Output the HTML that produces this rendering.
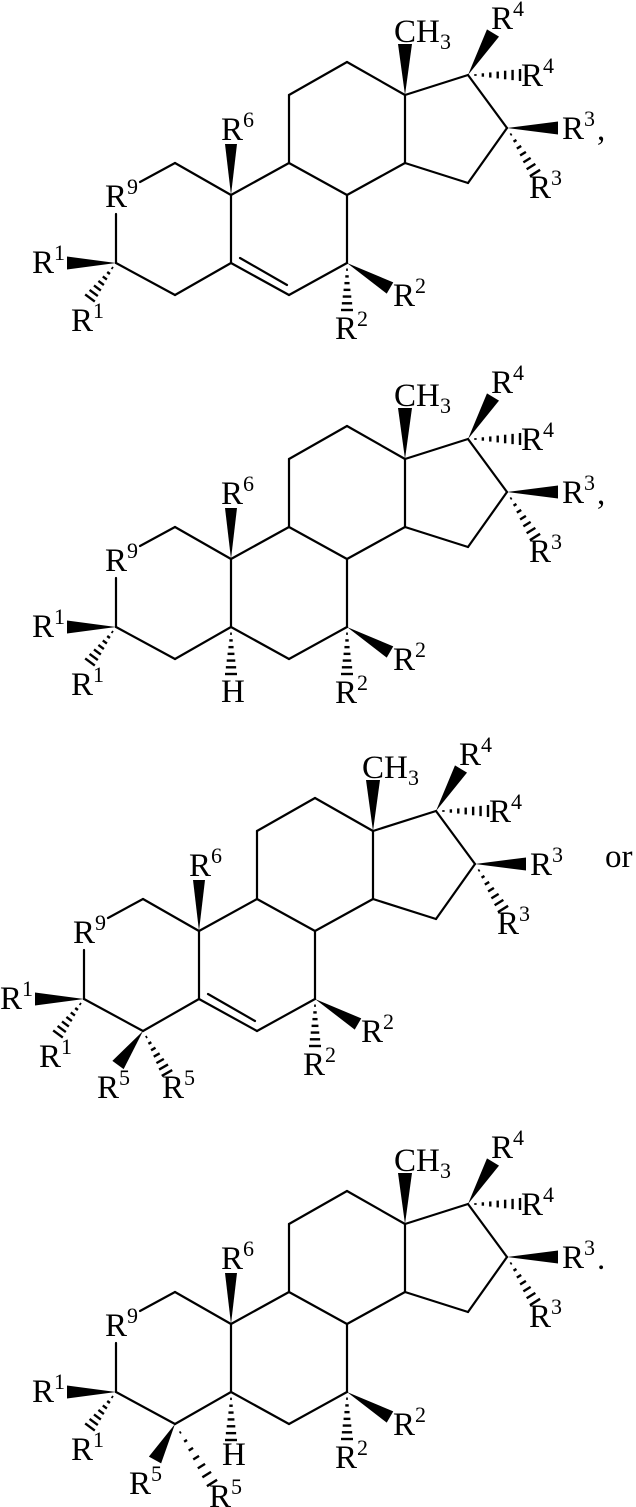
<!DOCTYPE html>
<html><head><meta charset="utf-8">
<style>
html,body{margin:0;padding:0;background:#fff;}
svg{display:block;}
text{font-family:"Liberation Serif",serif;fill:#000;}
.r{font-size:33px;}
.s{font-size:22px;}
</style></head>
<body>
<svg id="s" width="636" height="1507" viewBox="0 0 636 1507" xmlns="http://www.w3.org/2000/svg">
<g id="g1"></g>
<g id="g2" transform="translate(0,364)"></g>
<g id="g3" transform="translate(-32,736)"></g>
<g id="g4" transform="translate(0,1129)"></g>
<text class="r" x="605" y="867">or</text>
</svg>
<script>
var NS="http://www.w3.org/2000/svg";
function el(g,n,a){var e=document.createElementNS(NS,n);for(var k in a)e.setAttribute(k,a[k]);g.appendChild(e);return e;}
function line(g,a,b){el(g,"line",{x1:a[0],y1:a[1],x2:b[0],y2:b[1],stroke:"#000","stroke-width":2.2,"stroke-linecap":"round"});}
function wedge(g,a,b,w){w=w||5.5;var dx=b[0]-a[0],dy=b[1]-a[1],L=Math.hypot(dx,dy),px=-dy/L*w,py=dx/L*w;
el(g,"polygon",{points:a[0]+","+a[1]+" "+(b[0]+px)+","+(b[1]+py)+" "+(b[0]-px)+","+(b[1]-py),fill:"#000"});}
function hash(g,a,b,w){w=w||5.5;var dx=b[0]-a[0],dy=b[1]-a[1],L=Math.hypot(dx,dy),ux=-dy/L,uy=dx/L;var n=7;
for(var i=1;i<=n;i++){var t=i/n,x=a[0]+dx*t,y=a[1]+dy*t,h=w*t;
el(g,"line",{x1:x-ux*h,y1:y-uy*h,x2:x+ux*h,y2:y+uy*h,stroke:"#000","stroke-width":2.4});}}
function lab(g,x,y,sup){var t=el(g,"text",{x:x-1,y:y+1,"class":"r"});t.textContent="R";
var s=el(g,"text",{x:x+21,y:y-12,"class":"s"});s.textContent=sup;}
function txt(g,x,y,c,s){var t=el(g,"text",{x:x,y:y,"class":c});t.textContent=s;}
var C3=[116,263],C1=[175,163],C10=[231,195],C5=[231,263],C4=[175,295],C9=[289,163],C11=[289,95],C12=[347,62],C13=[405,95],C14=[405,163],C8=[347,195],C7=[347,263],C6=[289,295],C17=[468,75],C16=[507,128],C15=[468,183];
function skel(g,dbl,end){
line(g,C3,[116,214]);line(g,[140,182],C1);line(g,C1,C10);line(g,C10,C5);line(g,C5,C4);line(g,C4,C3);
line(g,C10,C9);line(g,C9,C11);line(g,C11,C12);line(g,C12,C13);line(g,C13,C14);line(g,C14,C8);line(g,C8,C9);
line(g,C8,C7);line(g,C7,C6);line(g,C6,C5);
if(dbl)line(g,[240,258],[287,285]);
line(g,C13,C17);line(g,C17,C16);line(g,C16,C15);line(g,C15,C14);
wedge(g,C10,[231,144],6);wedge(g,C13,[405,44],7);wedge(g,C17,[493,33],7);wedge(g,C16,[558,128],6.5);
wedge(g,C7,[390,288],6.5);wedge(g,C3,[67,263],6.5);
hash(g,C17,[520,75],6);hash(g,C16,[535,173],6);hash(g,C7,[347,310],6);hash(g,C3,[90,298],6);
lab(g,222,139,"6");lab(g,106,206,"9");lab(g,33,272,"1");lab(g,72,330,"1");
txt(g,394,42,"r","CH");txt(g,440,49,"s","3");
lab(g,492,28,"4");lab(g,522,85,"4");lab(g,563,138,"3");if(end)txt(g,597,140,"r",end);
lab(g,530,197,"3");lab(g,394,305,"2");lab(g,336,338,"2");
}
var g1=document.getElementById("g1"),g2=document.getElementById("g2"),g3=document.getElementById("g3"),g4=document.getElementById("g4");
skel(g1,true,",");
skel(g2,false,",");hash(g2,C5,[231,310],6);txt(g2,221,338,"r","H");
skel(g3,true,"");wedge(g3,C4,[150,329],7);hash(g3,C4,[199,337],6);lab(g3,130,361,"5");lab(g3,195,361,"5");
skel(g4,false,".");hash(g4,C5,[231,311],6);txt(g4,222,336,"r","H");wedge(g4,C4,[155,331],7);hash(g4,C4,[212,354],6);lab(g4,130,364,"5");lab(g4,210,377,"5");
</script>
</body></html>
